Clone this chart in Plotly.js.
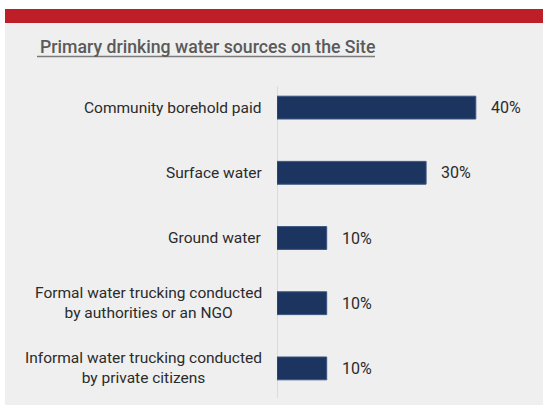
<!DOCTYPE html>
<html>
<head>
<meta charset="utf-8">
<script src="https://cdn.plot.ly/plotly-3.0.1.min.js"></script>
<style>html,body{margin:0;padding:0;background:#fff;}#chart{width:543px;height:405px;}</style>
</head>
<body>
<div id="chart"></div>
<script>
const categories = [
  "Community borehold paid",
  "Surface water",
  "Ground water",
  "Formal water trucking conducted<br>by authorities or an NGO",
  "Informal water trucking conducted<br>by private citizens"
];
const values = [40, 30, 10, 10, 10];
const valueLabels = ["40%", "30%", "10%", "10%", "10%"];
const chartTitle = "Primary drinking water sources on the Site";

const W = 543, H = 405;
const mL = 277, mR = 18, mT = 75, mB = 4;
const pw = W - mL - mR, ph = H - mT - mB;
const px = x => (x - mL) / pw;
const py = y => (H - mB - y) / ph;

const fontFam = "Roboto, 'Open Sans', sans-serif";

const annotations = [];
categories.forEach((c, i) => {
  annotations.push({
    x: 0, y: i, xref: 'x', yref: 'y', text: c, showarrow: false,
    xanchor: 'right', yanchor: 'middle', align: 'center', xshift: -13,
    font: {family: fontFam, size: 15.5, color: '#2b2b2b'}
  });
  annotations.push({
    x: values[i], y: i, xref: 'x', yref: 'y', text: valueLabels[i], showarrow: false,
    xanchor: 'left', yanchor: 'middle', xshift: 13,
    font: {family: fontFam, size: 16, color: '#2b2b2b'}
  });
});
annotations.push({
  x: px(38), y: py(47.5), xref: 'paper', yref: 'paper', text: chartTitle, showarrow: false,
  xanchor: 'left', yanchor: 'middle',
  font: {family: fontFam, size: 17.7, color: '#5a5a5a', weight: 500}
});

const shapes = [
  {type: 'rect', xref: 'paper', yref: 'paper', x0: px(-5), x1: px(W + 5), y0: py(-5), y1: py(9), fillcolor: '#ffffff', line: {width: 0}},
  {type: 'rect', xref: 'paper', yref: 'paper', x0: px(-5), x1: px(5), y0: py(-5), y1: py(H + 5), fillcolor: '#ffffff', line: {width: 0}},
  {type: 'rect', xref: 'paper', yref: 'paper', x0: px(5), x1: px(W + 5), y0: py(9), y1: py(23), fillcolor: '#be1e27', line: {width: 0}},
  {type: 'line', xref: 'paper', yref: 'paper', x0: px(37), x1: px(375), y0: py(56.5), y1: py(56.5), line: {color: '#7a7a7a', width: 1.5}},
  {type: 'line', xref: 'x', yref: 'paper', x0: 0, x1: 0, y0: py(398), y1: py(86), line: {color: '#d4d4d4', width: 1.5}, layer: 'below'}
];

Plotly.newPlot('chart', [{
  type: 'bar', orientation: 'h',
  x: values, y: categories.map((c, i) => i),
  width: 0.35,
  marker: {color: '#1b3560', line: {color: '#3a5680', width: 1}},
  hoverinfo: 'none'
}], {
  width: W, height: H,
  margin: {l: mL, r: mR, t: mT, b: mB, pad: 0},
  paper_bgcolor: '#efefef', plot_bgcolor: '#efefef',
  showlegend: false,
  xaxis: {range: [0, pw / 4.97], showgrid: false, zeroline: false, showticklabels: false, showline: false, fixedrange: true},
  yaxis: {range: [4.5, -0.5], showgrid: false, zeroline: false, showticklabels: false, showline: false, fixedrange: true},
  annotations: annotations,
  shapes: shapes
}, {staticPlot: true});
</script>
</body>
</html>
